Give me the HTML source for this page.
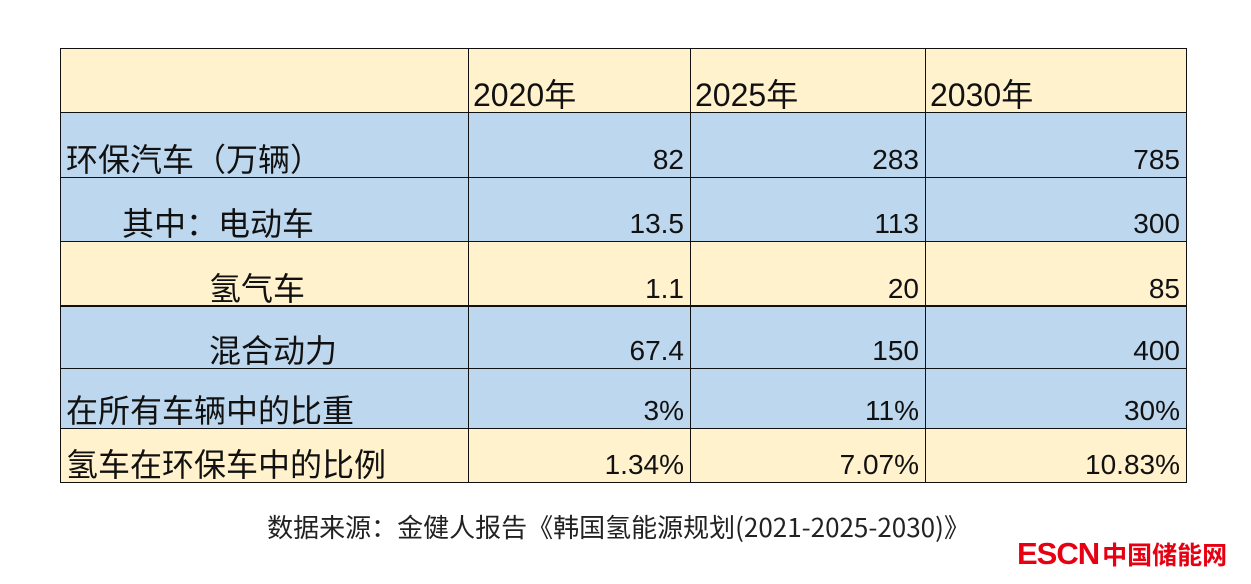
<!DOCTYPE html>
<html><head><meta charset="utf-8"><style>
body{margin:0;width:1251px;height:584px;background:#fff;position:relative;overflow:hidden;font-family:"Liberation Sans","Noto Sans CJK SC",sans-serif;color:#111}
.c{position:absolute;box-sizing:border-box;font-size:28px;line-height:32px;display:flex;align-items:flex-end;padding-bottom:1px}
.o{background:#fff2cc}.b{background:#bdd7ee}
.r{justify-content:flex-end;padding-right:6px}
.l{padding-left:6px}
.k{font-size:32px;font-family:"Noto Sans CJK SC",sans-serif;line-height:36px}
.h{font-size:32px;padding-left:5px}
.ln{position:absolute;background:#111}
</style></head><body>
<div class="c o" style="left:60px;top:48px;width:408px;height:64px"></div>
<div class="c o h" style="left:468px;top:48px;width:222px;height:64px">2020<span class="k">年</span></div>
<div class="c o h" style="left:690px;top:48px;width:235px;height:64px">2025<span class="k">年</span></div>
<div class="c o h" style="left:925px;top:48px;width:261px;height:64px">2030<span class="k">年</span></div>

<div class="c b l k" style="left:60px;top:112px;width:408px;height:65px">环保汽车（万辆）</div>
<div class="c b r" style="left:468px;top:112px;width:222px;height:65px">82</div>
<div class="c b r" style="left:690px;top:112px;width:235px;height:65px">283</div>
<div class="c b r" style="left:925px;top:112px;width:261px;height:65px">785</div>

<div class="c b k" style="left:60px;top:177px;width:408px;height:64px;padding-left:62px">其中：电动车</div>
<div class="c b r" style="left:468px;top:177px;width:222px;height:64px">13.5</div>
<div class="c b r" style="left:690px;top:177px;width:235px;height:64px">113</div>
<div class="c b r" style="left:925px;top:177px;width:261px;height:64px">300</div>

<div class="c o k" style="left:60px;top:241px;width:408px;height:65px;padding-left:149px">氢气车</div>
<div class="c o r" style="left:468px;top:241px;width:222px;height:65px">1.1</div>
<div class="c o r" style="left:690px;top:241px;width:235px;height:65px">20</div>
<div class="c o r" style="left:925px;top:241px;width:261px;height:65px">85</div>

<div class="c b k" style="left:60px;top:306px;width:408px;height:62px;padding-left:149px">混合动力</div>
<div class="c b r" style="left:468px;top:306px;width:222px;height:62px">67.4</div>
<div class="c b r" style="left:690px;top:306px;width:235px;height:62px">150</div>
<div class="c b r" style="left:925px;top:306px;width:261px;height:62px">400</div>

<div class="c b l k" style="left:60px;top:368px;width:408px;height:60px">在所有车辆中的比重</div>
<div class="c b r" style="left:468px;top:368px;width:222px;height:60px">3%</div>
<div class="c b r" style="left:690px;top:368px;width:235px;height:60px">11%</div>
<div class="c b r" style="left:925px;top:368px;width:261px;height:60px">30%</div>

<div class="c o l k" style="left:60px;top:428px;width:408px;height:54px">氢车在环保车中的比例</div>
<div class="c o r" style="left:468px;top:428px;width:222px;height:54px">1.34%</div>
<div class="c o r" style="left:690px;top:428px;width:235px;height:54px">7.07%</div>
<div class="c o r" style="left:925px;top:428px;width:261px;height:54px">10.83%</div>

<div class="ln" style="left:60px;top:48px;width:1127px;height:1px"></div>
<div class="ln" style="left:60px;top:112px;width:1127px;height:1px"></div>
<div class="ln" style="left:60px;top:177px;width:1127px;height:1px"></div>
<div class="ln" style="left:60px;top:241px;width:1127px;height:1px"></div>
<div class="ln" style="left:60px;top:305px;width:1127px;height:2px"></div>
<div class="ln" style="left:60px;top:368px;width:1127px;height:1px"></div>
<div class="ln" style="left:60px;top:428px;width:1127px;height:1px"></div>
<div class="ln" style="left:60px;top:482px;width:1127px;height:1px"></div>
<div class="ln" style="left:60px;top:48px;width:1px;height:435px"></div>
<div class="ln" style="left:468px;top:48px;width:1px;height:435px"></div>
<div class="ln" style="left:690px;top:48px;width:1px;height:435px"></div>
<div class="ln" style="left:925px;top:48px;width:1px;height:435px"></div>
<div class="ln" style="left:1186px;top:48px;width:1px;height:435px"></div>

<div style="position:absolute;left:0;width:1251px;top:509px;text-align:center;font-size:26px;line-height:36px;color:#222;font-family:'Noto Sans CJK SC',sans-serif;white-space:nowrap">
<span style="position:relative;left:-7px">数据来源：金健人报告《韩国氢能源规划(2021-2025-2030)》</span></div>
<div style="position:absolute;left:1017px;top:537px;font-size:31px;font-weight:bold;color:#e60012;letter-spacing:-1px;line-height:34px;white-space:nowrap">ESCN<span style="font-size:25px;letter-spacing:0;margin-left:3px;font-family:'Noto Sans CJK SC',sans-serif">中国储能网</span></div>
</body></html>
